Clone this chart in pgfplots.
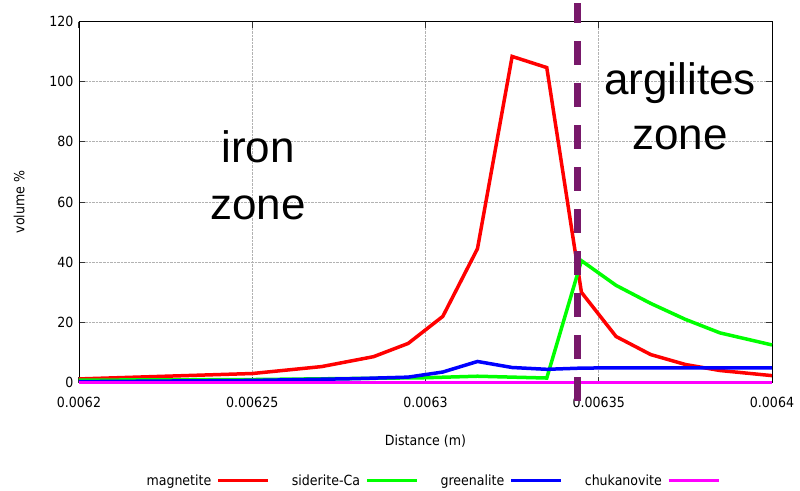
\documentclass[border=0pt]{standalone}
\usepackage{fontspec}
\setmainfont{DejaVu Sans Condensed}
\newfontfamily\arial{Liberation Sans}
\usepackage{pgfplots}
\pgfplotsset{compat=1.18}

\definecolor{zonepurple}{RGB}{120,24,106}
\definecolor{chuk}{RGB}{255,0,255}

\begin{document}
\begin{tikzpicture}
\begin{axis}[
    scale only axis,
    width=693bp, height=361bp,
    xmin=0.0062, xmax=0.0064,
    ymin=0, ymax=120,
    xtick={0.0062,0.00625,0.0063,0.00635,0.0064},
    xticklabels={0.0062,0.00625,0.0063,0.00635,0.0064},
    scaled x ticks=false,
    ytick={0,20,40,60,80,100,120},
    /pgf/number format/assume math mode=true,
    tick label style={font=\fontsize{14bp}{16bp}\selectfont},
    xticklabel style={yshift=-11bp},
    yticklabel style={xshift=-2bp},
    label style={font=\fontsize{14bp}{16bp}\selectfont},
    xlabel={Distance (m)},
    ylabel={volume \%},
    xlabel style={yshift=-20bp},
    ylabel style={yshift=18bp},
    grid=major,
    major grid style={densely dotted, gray!60, line width=0.8bp},
    axis line style={black, line width=0.8bp},
    tick style={black!80, line width=1bp},
    major tick length=6bp,
    clip=false,
    legend plot pos=right,
    legend columns=4,
    legend style={draw=none, fill=none, at={(0.51,-0.272)}, anchor=center,
        font=\fontsize{14bp}{16bp}\selectfont,
        /tikz/every odd column/.append style={column sep=3bp},
        /tikz/every even column/.append style={column sep=20bp}},
    legend image code/.code={\draw[#1, line width=3.5bp] (0bp,0bp) -- (50bp,0bp);},
]
% magnetite
\addplot[red, line width=3.5bp] coordinates {
    (0.0062, 1.2) (0.00625, 3.0) (0.00627, 5.3) (0.006285, 8.6)
    (0.006295, 13.0) (0.006305, 22.0) (0.006315, 44.5) (0.006325, 108.4)
    (0.006335, 104.7) (0.006345, 30.0) (0.006355, 15.3) (0.006365, 9.3)
    (0.006375, 6.0) (0.006385, 4.0) (0.0064, 2.3)
};
\addlegendentry{magnetite}
% siderite-Ca
\addplot[green, line width=3.5bp] coordinates {
    (0.0062, 0.8) (0.00625, 1.0) (0.0063, 1.6) (0.006315, 2.1)
    (0.006335, 1.5) (0.006345, 40.5) (0.006355, 32.3) (0.006365, 26.3)
    (0.006375, 21.0) (0.006385, 16.5) (0.0064, 12.5)
};
\addlegendentry{siderite-Ca}
% greenalite
\addplot[blue, line width=3.5bp] coordinates {
    (0.0062, 0.3) (0.00625, 0.7) (0.00628, 1.3) (0.006295, 1.8)
    (0.006305, 3.5) (0.006315, 7.0) (0.006325, 5.0) (0.006335, 4.4)
    (0.006345, 4.8) (0.006355, 4.9) (0.0064, 4.9)
};
\addlegendentry{greenalite}
% chukanovite
\addplot[chuk, line width=3bp] coordinates {
    (0.0062, 0) (0.0063, 0) (0.0064, 0)
};
\addlegendentry{chukanovite}

% zone boundary
\addplot[forget plot, zonepurple, line width=7bp, dash pattern=on 24bp off 18bp, dash phase=4bp]
    coordinates {(0.006344, 126) (0.006344, -8)};

\node[font=\arial\fontsize{44bp}{57bp}\selectfont, align=center]
    at (axis cs:0.0062517,68.8) {iron\\zone};
\node[font=\arial\fontsize{44bp}{55bp}\selectfont, align=center]
    at (axis cs:0.0063735,92) {argilites\\zone};

% page frame 800 x 485
\path (rel axis cs:0,0) ++(-79bp,-106bp) rectangle ++(800bp,485bp);
\end{axis}
\end{tikzpicture}
\end{document}
